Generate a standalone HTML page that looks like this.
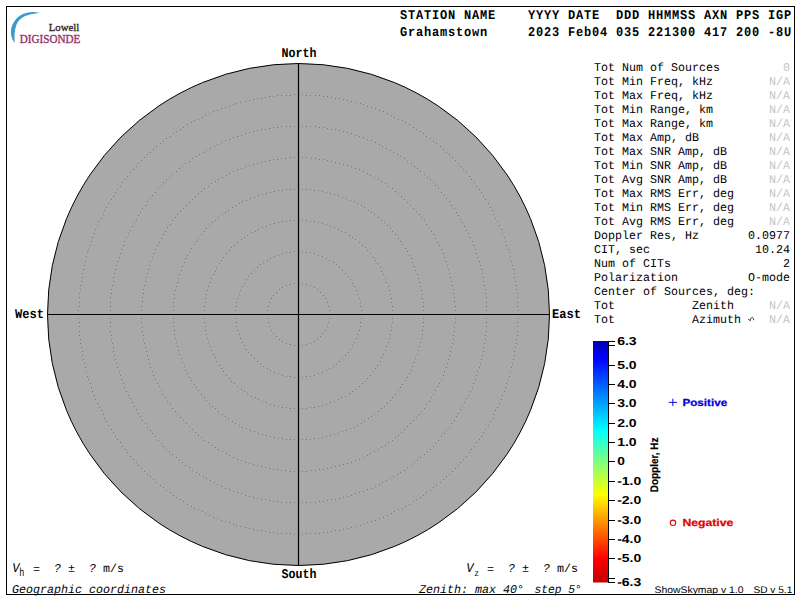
<!DOCTYPE html>
<html><head><meta charset="utf-8"><title>Skymap</title>
<style>
html,body{margin:0;padding:0;background:#fff;width:800px;height:600px;overflow:hidden}
svg{display:block}
.m{font-family:"Liberation Mono",monospace;text-rendering:geometricPrecision}
.s{font-family:"Liberation Sans",sans-serif;text-rendering:geometricPrecision}
.sr{font-family:"Liberation Serif",serif}
</style></head><body>
<svg width="800" height="600" viewBox="0 0 800 600">
<defs>
<linearGradient id="jet" x1="0" y1="0" x2="0" y2="1">
<stop offset="0" stop-color="#0000b0"/>
<stop offset="0.07" stop-color="#0000ff"/>
<stop offset="0.37" stop-color="#00ffff"/>
<stop offset="0.5" stop-color="#80ff80"/>
<stop offset="0.635" stop-color="#ffff00"/>
<stop offset="0.9" stop-color="#ff0000"/>
<stop offset="1" stop-color="#c00000"/>
</linearGradient>
</defs>
<rect x="0" y="0" width="800" height="600" fill="#fff"/>
<path d="M39.5,13 C30,10 15,13.5 11.2,28.5 C10.4,34 11.8,39.5 14.7,42.8 C14.2,37 14.3,30.5 16.5,24.5 C20,16.5 28.5,13.8 39.5,13 Z" fill="#3a9ac9"/>
<text class="sr" x="48.8" y="31" font-size="11.4" fill="#2a2a2a" stroke="#2a2a2a" stroke-width="0.35" textLength="30.4" lengthAdjust="spacingAndGlyphs">Lowell</text>
<text class="sr" x="19.8" y="43.3" font-size="11.6" fill="#993366" stroke="#993366" stroke-width="0.35" textLength="60.6" lengthAdjust="spacingAndGlyphs">DIGISONDE</text>
<text class="m" font-weight="bold" font-size="13.333" fill="#000" xml:space="preserve" letter-spacing="0.889" transform="translate(400.0,19) scale(0.9,1)">STATION NAME    YYYY DATE  DDD HHMMSS AXN PPS IGP</text>
<text class="m" font-weight="bold" font-size="13.333" fill="#000" xml:space="preserve" letter-spacing="0.889" transform="translate(400.0,36) scale(0.9,1)">Grahamstown     2023 Feb04 035 221300 417 200 -8U</text>
<circle cx="298.5" cy="314.5" r="251" fill="#a9a9a9" stroke="#000" stroke-width="1"/>
<path fill="#777777" d="M298 283h1v1h-1zM302 283h1v1h-1zM306 284h1v1h-1zM310 285h1v1h-1zM314 287h1v1h-1zM317 289h1v1h-1zM320 292h1v1h-1zM323 295h1v1h-1zM325 298h1v1h-1zM327 302h1v1h-1zM328 306h1v1h-1zM329 310h1v1h-1zM329 314h1v1h-1zM329 318h1v1h-1zM328 322h1v1h-1zM327 326h1v1h-1zM325 330h1v1h-1zM323 333h1v1h-1zM320 336h1v1h-1zM317 339h1v1h-1zM314 341h1v1h-1zM310 343h1v1h-1zM306 344h1v1h-1zM302 345h1v1h-1zM298 345h1v1h-1zM294 345h1v1h-1zM290 344h1v1h-1zM286 343h1v1h-1zM282 341h1v1h-1zM279 339h1v1h-1zM276 336h1v1h-1zM273 333h1v1h-1zM271 330h1v1h-1zM269 326h1v1h-1zM268 322h1v1h-1zM267 318h1v1h-1zM267 314h1v1h-1zM267 310h1v1h-1zM268 306h1v1h-1zM269 302h1v1h-1zM271 298h1v1h-1zM273 295h1v1h-1zM276 292h1v1h-1zM279 289h1v1h-1zM282 287h1v1h-1zM286 285h1v1h-1zM290 284h1v1h-1zM294 283h1v1h-1zM298 251h1v1h-1zM302 251h1v1h-1zM306 252h1v1h-1zM310 252h1v1h-1zM314 253h1v1h-1zM318 255h1v1h-1zM322 256h1v1h-1zM326 258h1v1h-1zM329 260h1v1h-1zM333 262h1v1h-1zM336 264h1v1h-1zM339 267h1v1h-1zM342 270h1v1h-1zM345 273h1v1h-1zM348 276h1v1h-1zM350 279h1v1h-1zM352 283h1v1h-1zM354 286h1v1h-1zM356 290h1v1h-1zM357 294h1v1h-1zM359 298h1v1h-1zM360 302h1v1h-1zM360 306h1v1h-1zM361 310h1v1h-1zM361 314h1v1h-1zM361 318h1v1h-1zM360 322h1v1h-1zM360 326h1v1h-1zM359 330h1v1h-1zM357 334h1v1h-1zM356 338h1v1h-1zM354 342h1v1h-1zM352 345h1v1h-1zM350 349h1v1h-1zM348 352h1v1h-1zM345 355h1v1h-1zM342 358h1v1h-1zM339 361h1v1h-1zM336 364h1v1h-1zM333 366h1v1h-1zM329 368h1v1h-1zM326 370h1v1h-1zM322 372h1v1h-1zM318 373h1v1h-1zM314 375h1v1h-1zM310 376h1v1h-1zM306 376h1v1h-1zM302 377h1v1h-1zM298 377h1v1h-1zM294 377h1v1h-1zM290 376h1v1h-1zM286 376h1v1h-1zM282 375h1v1h-1zM278 373h1v1h-1zM274 372h1v1h-1zM270 370h1v1h-1zM267 368h1v1h-1zM263 366h1v1h-1zM260 364h1v1h-1zM257 361h1v1h-1zM254 358h1v1h-1zM251 355h1v1h-1zM248 352h1v1h-1zM246 349h1v1h-1zM244 345h1v1h-1zM242 342h1v1h-1zM240 338h1v1h-1zM239 334h1v1h-1zM237 330h1v1h-1zM236 326h1v1h-1zM236 322h1v1h-1zM235 318h1v1h-1zM235 314h1v1h-1zM235 310h1v1h-1zM236 306h1v1h-1zM236 302h1v1h-1zM237 298h1v1h-1zM239 294h1v1h-1zM240 290h1v1h-1zM242 286h1v1h-1zM244 283h1v1h-1zM246 279h1v1h-1zM248 276h1v1h-1zM251 273h1v1h-1zM254 270h1v1h-1zM257 267h1v1h-1zM260 264h1v1h-1zM263 262h1v1h-1zM267 260h1v1h-1zM270 258h1v1h-1zM274 256h1v1h-1zM278 255h1v1h-1zM282 253h1v1h-1zM286 252h1v1h-1zM290 252h1v1h-1zM294 251h1v1h-1zM298 220h1v1h-1zM302 220h1v1h-1zM306 220h1v1h-1zM310 221h1v1h-1zM314 221h1v1h-1zM318 222h1v1h-1zM322 223h1v1h-1zM326 224h1v1h-1zM330 226h1v1h-1zM334 227h1v1h-1zM338 229h1v1h-1zM341 231h1v1h-1zM345 232h1v1h-1zM349 235h1v1h-1zM352 237h1v1h-1zM355 239h1v1h-1zM359 242h1v1h-1zM362 245h1v1h-1zM365 247h1v1h-1zM367 250h1v1h-1zM370 253h1v1h-1zM373 257h1v1h-1zM375 260h1v1h-1zM377 263h1v1h-1zM380 267h1v1h-1zM381 271h1v1h-1zM383 274h1v1h-1zM385 278h1v1h-1zM386 282h1v1h-1zM388 286h1v1h-1zM389 290h1v1h-1zM390 294h1v1h-1zM391 298h1v1h-1zM391 302h1v1h-1zM392 306h1v1h-1zM392 310h1v1h-1zM392 314h1v1h-1zM392 318h1v1h-1zM392 322h1v1h-1zM391 326h1v1h-1zM391 330h1v1h-1zM390 334h1v1h-1zM389 338h1v1h-1zM388 342h1v1h-1zM386 346h1v1h-1zM385 350h1v1h-1zM383 354h1v1h-1zM381 357h1v1h-1zM380 361h1v1h-1zM377 365h1v1h-1zM375 368h1v1h-1zM373 371h1v1h-1zM370 375h1v1h-1zM367 378h1v1h-1zM365 381h1v1h-1zM362 383h1v1h-1zM359 386h1v1h-1zM355 389h1v1h-1zM352 391h1v1h-1zM349 393h1v1h-1zM345 396h1v1h-1zM341 397h1v1h-1zM338 399h1v1h-1zM334 401h1v1h-1zM330 402h1v1h-1zM326 404h1v1h-1zM322 405h1v1h-1zM318 406h1v1h-1zM314 407h1v1h-1zM310 407h1v1h-1zM306 408h1v1h-1zM302 408h1v1h-1zM298 408h1v1h-1zM294 408h1v1h-1zM290 408h1v1h-1zM286 407h1v1h-1zM282 407h1v1h-1zM278 406h1v1h-1zM274 405h1v1h-1zM270 404h1v1h-1zM266 402h1v1h-1zM262 401h1v1h-1zM258 399h1v1h-1zM255 397h1v1h-1zM251 396h1v1h-1zM247 393h1v1h-1zM244 391h1v1h-1zM241 389h1v1h-1zM237 386h1v1h-1zM234 383h1v1h-1zM231 381h1v1h-1zM229 378h1v1h-1zM226 375h1v1h-1zM223 371h1v1h-1zM221 368h1v1h-1zM219 365h1v1h-1zM216 361h1v1h-1zM215 357h1v1h-1zM213 354h1v1h-1zM211 350h1v1h-1zM210 346h1v1h-1zM208 342h1v1h-1zM207 338h1v1h-1zM206 334h1v1h-1zM205 330h1v1h-1zM205 326h1v1h-1zM204 322h1v1h-1zM204 318h1v1h-1zM204 314h1v1h-1zM204 310h1v1h-1zM204 306h1v1h-1zM205 302h1v1h-1zM205 298h1v1h-1zM206 294h1v1h-1zM207 290h1v1h-1zM208 286h1v1h-1zM210 282h1v1h-1zM211 278h1v1h-1zM213 274h1v1h-1zM215 271h1v1h-1zM216 267h1v1h-1zM219 263h1v1h-1zM221 260h1v1h-1zM223 257h1v1h-1zM226 253h1v1h-1zM229 250h1v1h-1zM231 247h1v1h-1zM234 245h1v1h-1zM237 242h1v1h-1zM241 239h1v1h-1zM244 237h1v1h-1zM247 235h1v1h-1zM251 232h1v1h-1zM255 231h1v1h-1zM258 229h1v1h-1zM262 227h1v1h-1zM266 226h1v1h-1zM270 224h1v1h-1zM274 223h1v1h-1zM278 222h1v1h-1zM282 221h1v1h-1zM286 221h1v1h-1zM290 220h1v1h-1zM294 220h1v1h-1zM298 189h1v1h-1zM302 189h1v1h-1zM306 189h1v1h-1zM310 189h1v1h-1zM314 190h1v1h-1zM318 190h1v1h-1zM322 191h1v1h-1zM326 192h1v1h-1zM330 193h1v1h-1zM334 194h1v1h-1zM338 195h1v1h-1zM342 197h1v1h-1zM346 198h1v1h-1zM350 200h1v1h-1zM354 201h1v1h-1zM357 203h1v1h-1zM361 205h1v1h-1zM364 207h1v1h-1zM368 210h1v1h-1zM371 212h1v1h-1zM374 214h1v1h-1zM378 217h1v1h-1zM381 220h1v1h-1zM384 222h1v1h-1zM387 225h1v1h-1zM390 228h1v1h-1zM392 231h1v1h-1zM395 234h1v1h-1zM398 238h1v1h-1zM400 241h1v1h-1zM402 244h1v1h-1zM405 248h1v1h-1zM407 251h1v1h-1zM409 255h1v1h-1zM411 258h1v1h-1zM412 262h1v1h-1zM414 266h1v1h-1zM415 270h1v1h-1zM417 274h1v1h-1zM418 278h1v1h-1zM419 282h1v1h-1zM420 286h1v1h-1zM421 290h1v1h-1zM422 294h1v1h-1zM422 298h1v1h-1zM423 302h1v1h-1zM423 306h1v1h-1zM423 310h1v1h-1zM424 314h1v1h-1zM423 318h1v1h-1zM423 322h1v1h-1zM423 326h1v1h-1zM422 330h1v1h-1zM422 334h1v1h-1zM421 338h1v1h-1zM420 342h1v1h-1zM419 346h1v1h-1zM418 350h1v1h-1zM417 354h1v1h-1zM415 358h1v1h-1zM414 362h1v1h-1zM412 366h1v1h-1zM411 370h1v1h-1zM409 373h1v1h-1zM407 377h1v1h-1zM405 380h1v1h-1zM402 384h1v1h-1zM400 387h1v1h-1zM398 390h1v1h-1zM395 394h1v1h-1zM392 397h1v1h-1zM390 400h1v1h-1zM387 403h1v1h-1zM384 406h1v1h-1zM381 408h1v1h-1zM378 411h1v1h-1zM374 414h1v1h-1zM371 416h1v1h-1zM368 418h1v1h-1zM364 421h1v1h-1zM361 423h1v1h-1zM357 425h1v1h-1zM354 427h1v1h-1zM350 428h1v1h-1zM346 430h1v1h-1zM342 431h1v1h-1zM338 433h1v1h-1zM334 434h1v1h-1zM330 435h1v1h-1zM326 436h1v1h-1zM322 437h1v1h-1zM318 438h1v1h-1zM314 438h1v1h-1zM310 439h1v1h-1zM306 439h1v1h-1zM302 439h1v1h-1zM298 440h1v1h-1zM294 439h1v1h-1zM290 439h1v1h-1zM286 439h1v1h-1zM282 438h1v1h-1zM278 438h1v1h-1zM274 437h1v1h-1zM270 436h1v1h-1zM266 435h1v1h-1zM262 434h1v1h-1zM258 433h1v1h-1zM254 431h1v1h-1zM250 430h1v1h-1zM246 428h1v1h-1zM242 427h1v1h-1zM239 425h1v1h-1zM235 423h1v1h-1zM232 421h1v1h-1zM228 418h1v1h-1zM225 416h1v1h-1zM222 414h1v1h-1zM218 411h1v1h-1zM215 408h1v1h-1zM212 406h1v1h-1zM209 403h1v1h-1zM206 400h1v1h-1zM204 397h1v1h-1zM201 394h1v1h-1zM198 390h1v1h-1zM196 387h1v1h-1zM194 384h1v1h-1zM191 380h1v1h-1zM189 377h1v1h-1zM187 373h1v1h-1zM185 370h1v1h-1zM184 366h1v1h-1zM182 362h1v1h-1zM181 358h1v1h-1zM179 354h1v1h-1zM178 350h1v1h-1zM177 346h1v1h-1zM176 342h1v1h-1zM175 338h1v1h-1zM174 334h1v1h-1zM174 330h1v1h-1zM173 326h1v1h-1zM173 322h1v1h-1zM173 318h1v1h-1zM173 314h1v1h-1zM173 310h1v1h-1zM173 306h1v1h-1zM173 302h1v1h-1zM174 298h1v1h-1zM174 294h1v1h-1zM175 290h1v1h-1zM176 286h1v1h-1zM177 282h1v1h-1zM178 278h1v1h-1zM179 274h1v1h-1zM181 270h1v1h-1zM182 266h1v1h-1zM184 262h1v1h-1zM185 258h1v1h-1zM187 255h1v1h-1zM189 251h1v1h-1zM191 248h1v1h-1zM194 244h1v1h-1zM196 241h1v1h-1zM198 238h1v1h-1zM201 234h1v1h-1zM204 231h1v1h-1zM206 228h1v1h-1zM209 225h1v1h-1zM212 222h1v1h-1zM215 220h1v1h-1zM218 217h1v1h-1zM222 214h1v1h-1zM225 212h1v1h-1zM228 210h1v1h-1zM232 207h1v1h-1zM235 205h1v1h-1zM239 203h1v1h-1zM242 201h1v1h-1zM246 200h1v1h-1zM250 198h1v1h-1zM254 197h1v1h-1zM258 195h1v1h-1zM262 194h1v1h-1zM266 193h1v1h-1zM270 192h1v1h-1zM274 191h1v1h-1zM278 190h1v1h-1zM282 190h1v1h-1zM286 189h1v1h-1zM290 189h1v1h-1zM294 189h1v1h-1zM298 157h1v1h-1zM302 157h1v1h-1zM306 157h1v1h-1zM311 158h1v1h-1zM315 158h1v1h-1zM319 159h1v1h-1zM323 159h1v1h-1zM327 160h1v1h-1zM331 161h1v1h-1zM335 162h1v1h-1zM339 163h1v1h-1zM343 164h1v1h-1zM347 165h1v1h-1zM351 166h1v1h-1zM355 168h1v1h-1zM359 169h1v1h-1zM363 171h1v1h-1zM367 173h1v1h-1zM370 175h1v1h-1zM374 177h1v1h-1zM378 179h1v1h-1zM381 181h1v1h-1zM385 183h1v1h-1zM388 186h1v1h-1zM392 188h1v1h-1zM395 191h1v1h-1zM398 193h1v1h-1zM401 196h1v1h-1zM404 199h1v1h-1zM407 202h1v1h-1zM410 205h1v1h-1zM413 208h1v1h-1zM416 211h1v1h-1zM419 214h1v1h-1zM421 217h1v1h-1zM424 220h1v1h-1zM426 224h1v1h-1zM429 227h1v1h-1zM431 231h1v1h-1zM433 234h1v1h-1zM435 238h1v1h-1zM437 242h1v1h-1zM439 245h1v1h-1zM441 249h1v1h-1zM443 253h1v1h-1zM444 257h1v1h-1zM446 261h1v1h-1zM447 265h1v1h-1zM448 269h1v1h-1zM449 273h1v1h-1zM450 277h1v1h-1zM451 281h1v1h-1zM452 285h1v1h-1zM453 289h1v1h-1zM453 293h1v1h-1zM454 297h1v1h-1zM454 301h1v1h-1zM455 306h1v1h-1zM455 310h1v1h-1zM455 314h1v1h-1zM455 318h1v1h-1zM455 322h1v1h-1zM454 327h1v1h-1zM454 331h1v1h-1zM453 335h1v1h-1zM453 339h1v1h-1zM452 343h1v1h-1zM451 347h1v1h-1zM450 351h1v1h-1zM449 355h1v1h-1zM448 359h1v1h-1zM447 363h1v1h-1zM446 367h1v1h-1zM444 371h1v1h-1zM443 375h1v1h-1zM441 379h1v1h-1zM439 383h1v1h-1zM437 386h1v1h-1zM435 390h1v1h-1zM433 394h1v1h-1zM431 397h1v1h-1zM429 401h1v1h-1zM426 404h1v1h-1zM424 408h1v1h-1zM421 411h1v1h-1zM419 414h1v1h-1zM416 417h1v1h-1zM413 420h1v1h-1zM410 423h1v1h-1zM407 426h1v1h-1zM404 429h1v1h-1zM401 432h1v1h-1zM398 435h1v1h-1zM395 437h1v1h-1zM392 440h1v1h-1zM388 442h1v1h-1zM385 445h1v1h-1zM381 447h1v1h-1zM378 449h1v1h-1zM374 451h1v1h-1zM370 453h1v1h-1zM367 455h1v1h-1zM363 457h1v1h-1zM359 459h1v1h-1zM355 460h1v1h-1zM351 462h1v1h-1zM347 463h1v1h-1zM343 464h1v1h-1zM339 465h1v1h-1zM335 466h1v1h-1zM331 467h1v1h-1zM327 468h1v1h-1zM323 469h1v1h-1zM319 469h1v1h-1zM315 470h1v1h-1zM311 470h1v1h-1zM306 471h1v1h-1zM302 471h1v1h-1zM298 471h1v1h-1zM294 471h1v1h-1zM290 471h1v1h-1zM285 470h1v1h-1zM281 470h1v1h-1zM277 469h1v1h-1zM273 469h1v1h-1zM269 468h1v1h-1zM265 467h1v1h-1zM261 466h1v1h-1zM257 465h1v1h-1zM253 464h1v1h-1zM249 463h1v1h-1zM245 462h1v1h-1zM241 460h1v1h-1zM237 459h1v1h-1zM233 457h1v1h-1zM229 455h1v1h-1zM226 453h1v1h-1zM222 451h1v1h-1zM218 449h1v1h-1zM215 447h1v1h-1zM211 445h1v1h-1zM208 442h1v1h-1zM204 440h1v1h-1zM201 437h1v1h-1zM198 435h1v1h-1zM195 432h1v1h-1zM192 429h1v1h-1zM189 426h1v1h-1zM186 423h1v1h-1zM183 420h1v1h-1zM180 417h1v1h-1zM177 414h1v1h-1zM175 411h1v1h-1zM172 408h1v1h-1zM170 404h1v1h-1zM167 401h1v1h-1zM165 397h1v1h-1zM163 394h1v1h-1zM161 390h1v1h-1zM159 386h1v1h-1zM157 383h1v1h-1zM155 379h1v1h-1zM153 375h1v1h-1zM152 371h1v1h-1zM150 367h1v1h-1zM149 363h1v1h-1zM148 359h1v1h-1zM147 355h1v1h-1zM146 351h1v1h-1zM145 347h1v1h-1zM144 343h1v1h-1zM143 339h1v1h-1zM143 335h1v1h-1zM142 331h1v1h-1zM142 327h1v1h-1zM141 322h1v1h-1zM141 318h1v1h-1zM141 314h1v1h-1zM141 310h1v1h-1zM141 306h1v1h-1zM142 301h1v1h-1zM142 297h1v1h-1zM143 293h1v1h-1zM143 289h1v1h-1zM144 285h1v1h-1zM145 281h1v1h-1zM146 277h1v1h-1zM147 273h1v1h-1zM148 269h1v1h-1zM149 265h1v1h-1zM150 261h1v1h-1zM152 257h1v1h-1zM153 253h1v1h-1zM155 249h1v1h-1zM157 245h1v1h-1zM159 242h1v1h-1zM161 238h1v1h-1zM163 234h1v1h-1zM165 231h1v1h-1zM167 227h1v1h-1zM170 224h1v1h-1zM172 220h1v1h-1zM175 217h1v1h-1zM177 214h1v1h-1zM180 211h1v1h-1zM183 208h1v1h-1zM186 205h1v1h-1zM189 202h1v1h-1zM192 199h1v1h-1zM195 196h1v1h-1zM198 193h1v1h-1zM201 191h1v1h-1zM204 188h1v1h-1zM208 186h1v1h-1zM211 183h1v1h-1zM215 181h1v1h-1zM218 179h1v1h-1zM222 177h1v1h-1zM226 175h1v1h-1zM229 173h1v1h-1zM233 171h1v1h-1zM237 169h1v1h-1zM241 168h1v1h-1zM245 166h1v1h-1zM249 165h1v1h-1zM253 164h1v1h-1zM257 163h1v1h-1zM261 162h1v1h-1zM265 161h1v1h-1zM269 160h1v1h-1zM273 159h1v1h-1zM277 159h1v1h-1zM281 158h1v1h-1zM285 158h1v1h-1zM290 157h1v1h-1zM294 157h1v1h-1zM298 126h1v1h-1zM302 126h1v1h-1zM306 126h1v1h-1zM310 126h1v1h-1zM315 126h1v1h-1zM319 127h1v1h-1zM323 127h1v1h-1zM327 128h1v1h-1zM331 129h1v1h-1zM335 129h1v1h-1zM339 130h1v1h-1zM343 131h1v1h-1zM347 132h1v1h-1zM351 133h1v1h-1zM355 135h1v1h-1zM359 136h1v1h-1zM363 137h1v1h-1zM367 139h1v1h-1zM371 140h1v1h-1zM375 142h1v1h-1zM379 144h1v1h-1zM382 146h1v1h-1zM386 148h1v1h-1zM390 150h1v1h-1zM393 152h1v1h-1zM397 154h1v1h-1zM400 156h1v1h-1zM404 158h1v1h-1zM407 161h1v1h-1zM411 163h1v1h-1zM414 166h1v1h-1zM417 168h1v1h-1zM420 171h1v1h-1zM424 174h1v1h-1zM427 177h1v1h-1zM430 179h1v1h-1zM433 182h1v1h-1zM435 185h1v1h-1zM438 188h1v1h-1zM441 192h1v1h-1zM444 195h1v1h-1zM446 198h1v1h-1zM449 201h1v1h-1zM451 205h1v1h-1zM454 208h1v1h-1zM456 212h1v1h-1zM458 215h1v1h-1zM460 219h1v1h-1zM462 222h1v1h-1zM464 226h1v1h-1zM466 230h1v1h-1zM468 233h1v1h-1zM470 237h1v1h-1zM472 241h1v1h-1zM473 245h1v1h-1zM475 249h1v1h-1zM476 253h1v1h-1zM477 257h1v1h-1zM479 261h1v1h-1zM480 265h1v1h-1zM481 269h1v1h-1zM482 273h1v1h-1zM483 277h1v1h-1zM483 281h1v1h-1zM484 285h1v1h-1zM485 289h1v1h-1zM485 293h1v1h-1zM486 297h1v1h-1zM486 302h1v1h-1zM486 306h1v1h-1zM486 310h1v1h-1zM486 314h1v1h-1zM486 318h1v1h-1zM486 322h1v1h-1zM486 326h1v1h-1zM486 331h1v1h-1zM485 335h1v1h-1zM485 339h1v1h-1zM484 343h1v1h-1zM483 347h1v1h-1zM483 351h1v1h-1zM482 355h1v1h-1zM481 359h1v1h-1zM480 363h1v1h-1zM479 367h1v1h-1zM477 371h1v1h-1zM476 375h1v1h-1zM475 379h1v1h-1zM473 383h1v1h-1zM472 387h1v1h-1zM470 391h1v1h-1zM468 395h1v1h-1zM466 398h1v1h-1zM464 402h1v1h-1zM462 406h1v1h-1zM460 409h1v1h-1zM458 413h1v1h-1zM456 416h1v1h-1zM454 420h1v1h-1zM451 423h1v1h-1zM449 427h1v1h-1zM446 430h1v1h-1zM444 433h1v1h-1zM441 436h1v1h-1zM438 440h1v1h-1zM435 443h1v1h-1zM433 446h1v1h-1zM430 449h1v1h-1zM427 451h1v1h-1zM424 454h1v1h-1zM420 457h1v1h-1zM417 460h1v1h-1zM414 462h1v1h-1zM411 465h1v1h-1zM407 467h1v1h-1zM404 470h1v1h-1zM400 472h1v1h-1zM397 474h1v1h-1zM393 476h1v1h-1zM390 478h1v1h-1zM386 480h1v1h-1zM382 482h1v1h-1zM379 484h1v1h-1zM375 486h1v1h-1zM371 488h1v1h-1zM367 489h1v1h-1zM363 491h1v1h-1zM359 492h1v1h-1zM355 493h1v1h-1zM351 495h1v1h-1zM347 496h1v1h-1zM343 497h1v1h-1zM339 498h1v1h-1zM335 499h1v1h-1zM331 499h1v1h-1zM327 500h1v1h-1zM323 501h1v1h-1zM319 501h1v1h-1zM315 502h1v1h-1zM310 502h1v1h-1zM306 502h1v1h-1zM302 502h1v1h-1zM298 502h1v1h-1zM294 502h1v1h-1zM290 502h1v1h-1zM286 502h1v1h-1zM281 502h1v1h-1zM277 501h1v1h-1zM273 501h1v1h-1zM269 500h1v1h-1zM265 499h1v1h-1zM261 499h1v1h-1zM257 498h1v1h-1zM253 497h1v1h-1zM249 496h1v1h-1zM245 495h1v1h-1zM241 493h1v1h-1zM237 492h1v1h-1zM233 491h1v1h-1zM229 489h1v1h-1zM225 488h1v1h-1zM221 486h1v1h-1zM217 484h1v1h-1zM214 482h1v1h-1zM210 480h1v1h-1zM206 478h1v1h-1zM203 476h1v1h-1zM199 474h1v1h-1zM196 472h1v1h-1zM192 470h1v1h-1zM189 467h1v1h-1zM185 465h1v1h-1zM182 462h1v1h-1zM179 460h1v1h-1zM176 457h1v1h-1zM172 454h1v1h-1zM169 451h1v1h-1zM166 449h1v1h-1zM163 446h1v1h-1zM161 443h1v1h-1zM158 440h1v1h-1zM155 436h1v1h-1zM152 433h1v1h-1zM150 430h1v1h-1zM147 427h1v1h-1zM145 423h1v1h-1zM142 420h1v1h-1zM140 416h1v1h-1zM138 413h1v1h-1zM136 409h1v1h-1zM134 406h1v1h-1zM132 402h1v1h-1zM130 398h1v1h-1zM128 395h1v1h-1zM126 391h1v1h-1zM124 387h1v1h-1zM123 383h1v1h-1zM121 379h1v1h-1zM120 375h1v1h-1zM119 371h1v1h-1zM117 367h1v1h-1zM116 363h1v1h-1zM115 359h1v1h-1zM114 355h1v1h-1zM113 351h1v1h-1zM113 347h1v1h-1zM112 343h1v1h-1zM111 339h1v1h-1zM111 335h1v1h-1zM110 331h1v1h-1zM110 326h1v1h-1zM110 322h1v1h-1zM110 318h1v1h-1zM110 314h1v1h-1zM110 310h1v1h-1zM110 306h1v1h-1zM110 302h1v1h-1zM110 297h1v1h-1zM111 293h1v1h-1zM111 289h1v1h-1zM112 285h1v1h-1zM113 281h1v1h-1zM113 277h1v1h-1zM114 273h1v1h-1zM115 269h1v1h-1zM116 265h1v1h-1zM117 261h1v1h-1zM119 257h1v1h-1zM120 253h1v1h-1zM121 249h1v1h-1zM123 245h1v1h-1zM124 241h1v1h-1zM126 237h1v1h-1zM128 233h1v1h-1zM130 230h1v1h-1zM132 226h1v1h-1zM134 222h1v1h-1zM136 219h1v1h-1zM138 215h1v1h-1zM140 212h1v1h-1zM142 208h1v1h-1zM145 205h1v1h-1zM147 201h1v1h-1zM150 198h1v1h-1zM152 195h1v1h-1zM155 192h1v1h-1zM158 188h1v1h-1zM161 185h1v1h-1zM163 182h1v1h-1zM166 179h1v1h-1zM169 177h1v1h-1zM172 174h1v1h-1zM176 171h1v1h-1zM179 168h1v1h-1zM182 166h1v1h-1zM185 163h1v1h-1zM189 161h1v1h-1zM192 158h1v1h-1zM196 156h1v1h-1zM199 154h1v1h-1zM203 152h1v1h-1zM206 150h1v1h-1zM210 148h1v1h-1zM214 146h1v1h-1zM217 144h1v1h-1zM221 142h1v1h-1zM225 140h1v1h-1zM229 139h1v1h-1zM233 137h1v1h-1zM237 136h1v1h-1zM241 135h1v1h-1zM245 133h1v1h-1zM249 132h1v1h-1zM253 131h1v1h-1zM257 130h1v1h-1zM261 129h1v1h-1zM265 129h1v1h-1zM269 128h1v1h-1zM273 127h1v1h-1zM277 127h1v1h-1zM281 126h1v1h-1zM286 126h1v1h-1zM290 126h1v1h-1zM294 126h1v1h-1zM298 94h1v1h-1zM302 94h1v1h-1zM306 95h1v1h-1zM310 95h1v1h-1zM315 95h1v1h-1zM319 95h1v1h-1zM323 96h1v1h-1zM327 96h1v1h-1zM331 97h1v1h-1zM335 98h1v1h-1zM339 98h1v1h-1zM343 99h1v1h-1zM347 100h1v1h-1zM351 101h1v1h-1zM356 102h1v1h-1zM360 103h1v1h-1zM363 104h1v1h-1zM367 106h1v1h-1zM371 107h1v1h-1zM375 108h1v1h-1zM379 110h1v1h-1zM383 111h1v1h-1zM387 113h1v1h-1zM391 115h1v1h-1zM394 117h1v1h-1zM398 119h1v1h-1zM402 120h1v1h-1zM405 122h1v1h-1zM409 124h1v1h-1zM413 127h1v1h-1zM416 129h1v1h-1zM420 131h1v1h-1zM423 133h1v1h-1zM426 136h1v1h-1zM430 138h1v1h-1zM433 141h1v1h-1zM436 143h1v1h-1zM440 146h1v1h-1zM443 149h1v1h-1zM446 152h1v1h-1zM449 154h1v1h-1zM452 157h1v1h-1zM455 160h1v1h-1zM458 163h1v1h-1zM460 166h1v1h-1zM463 169h1v1h-1zM466 172h1v1h-1zM469 176h1v1h-1zM471 179h1v1h-1zM474 182h1v1h-1zM476 186h1v1h-1zM479 189h1v1h-1zM481 192h1v1h-1zM483 196h1v1h-1zM485 199h1v1h-1zM488 203h1v1h-1zM490 207h1v1h-1zM492 210h1v1h-1zM493 214h1v1h-1zM495 218h1v1h-1zM497 221h1v1h-1zM499 225h1v1h-1zM501 229h1v1h-1zM502 233h1v1h-1zM504 237h1v1h-1zM505 241h1v1h-1zM506 245h1v1h-1zM508 249h1v1h-1zM509 252h1v1h-1zM510 256h1v1h-1zM511 261h1v1h-1zM512 265h1v1h-1zM513 269h1v1h-1zM514 273h1v1h-1zM514 277h1v1h-1zM515 281h1v1h-1zM516 285h1v1h-1zM516 289h1v1h-1zM517 293h1v1h-1zM517 297h1v1h-1zM517 302h1v1h-1zM517 306h1v1h-1zM518 310h1v1h-1zM518 314h1v1h-1zM518 318h1v1h-1zM517 322h1v1h-1zM517 326h1v1h-1zM517 331h1v1h-1zM517 335h1v1h-1zM516 339h1v1h-1zM516 343h1v1h-1zM515 347h1v1h-1zM514 351h1v1h-1zM514 355h1v1h-1zM513 359h1v1h-1zM512 363h1v1h-1zM511 367h1v1h-1zM510 372h1v1h-1zM509 376h1v1h-1zM508 379h1v1h-1zM506 383h1v1h-1zM505 387h1v1h-1zM504 391h1v1h-1zM502 395h1v1h-1zM501 399h1v1h-1zM499 403h1v1h-1zM497 407h1v1h-1zM495 410h1v1h-1zM493 414h1v1h-1zM492 418h1v1h-1zM490 421h1v1h-1zM488 425h1v1h-1zM485 429h1v1h-1zM483 432h1v1h-1zM481 436h1v1h-1zM479 439h1v1h-1zM476 442h1v1h-1zM474 446h1v1h-1zM471 449h1v1h-1zM469 452h1v1h-1zM466 456h1v1h-1zM463 459h1v1h-1zM460 462h1v1h-1zM458 465h1v1h-1zM455 468h1v1h-1zM452 471h1v1h-1zM449 474h1v1h-1zM446 476h1v1h-1zM443 479h1v1h-1zM440 482h1v1h-1zM436 485h1v1h-1zM433 487h1v1h-1zM430 490h1v1h-1zM426 492h1v1h-1zM423 495h1v1h-1zM420 497h1v1h-1zM416 499h1v1h-1zM413 501h1v1h-1zM409 504h1v1h-1zM405 506h1v1h-1zM402 508h1v1h-1zM398 509h1v1h-1zM394 511h1v1h-1zM391 513h1v1h-1zM387 515h1v1h-1zM383 517h1v1h-1zM379 518h1v1h-1zM375 520h1v1h-1zM371 521h1v1h-1zM367 522h1v1h-1zM363 524h1v1h-1zM360 525h1v1h-1zM356 526h1v1h-1zM351 527h1v1h-1zM347 528h1v1h-1zM343 529h1v1h-1zM339 530h1v1h-1zM335 530h1v1h-1zM331 531h1v1h-1zM327 532h1v1h-1zM323 532h1v1h-1zM319 533h1v1h-1zM315 533h1v1h-1zM310 533h1v1h-1zM306 533h1v1h-1zM302 534h1v1h-1zM298 534h1v1h-1zM294 534h1v1h-1zM290 533h1v1h-1zM286 533h1v1h-1zM281 533h1v1h-1zM277 533h1v1h-1zM273 532h1v1h-1zM269 532h1v1h-1zM265 531h1v1h-1zM261 530h1v1h-1zM257 530h1v1h-1zM253 529h1v1h-1zM249 528h1v1h-1zM245 527h1v1h-1zM240 526h1v1h-1zM236 525h1v1h-1zM233 524h1v1h-1zM229 522h1v1h-1zM225 521h1v1h-1zM221 520h1v1h-1zM217 518h1v1h-1zM213 517h1v1h-1zM209 515h1v1h-1zM205 513h1v1h-1zM202 511h1v1h-1zM198 509h1v1h-1zM194 508h1v1h-1zM191 506h1v1h-1zM187 504h1v1h-1zM183 501h1v1h-1zM180 499h1v1h-1zM176 497h1v1h-1zM173 495h1v1h-1zM170 492h1v1h-1zM166 490h1v1h-1zM163 487h1v1h-1zM160 485h1v1h-1zM156 482h1v1h-1zM153 479h1v1h-1zM150 476h1v1h-1zM147 474h1v1h-1zM144 471h1v1h-1zM141 468h1v1h-1zM138 465h1v1h-1zM136 462h1v1h-1zM133 459h1v1h-1zM130 456h1v1h-1zM127 452h1v1h-1zM125 449h1v1h-1zM122 446h1v1h-1zM120 442h1v1h-1zM117 439h1v1h-1zM115 436h1v1h-1zM113 432h1v1h-1zM111 429h1v1h-1zM108 425h1v1h-1zM106 421h1v1h-1zM104 418h1v1h-1zM103 414h1v1h-1zM101 410h1v1h-1zM99 407h1v1h-1zM97 403h1v1h-1zM95 399h1v1h-1zM94 395h1v1h-1zM92 391h1v1h-1zM91 387h1v1h-1zM90 383h1v1h-1zM88 379h1v1h-1zM87 376h1v1h-1zM86 372h1v1h-1zM85 367h1v1h-1zM84 363h1v1h-1zM83 359h1v1h-1zM82 355h1v1h-1zM82 351h1v1h-1zM81 347h1v1h-1zM80 343h1v1h-1zM80 339h1v1h-1zM79 335h1v1h-1zM79 331h1v1h-1zM79 326h1v1h-1zM79 322h1v1h-1zM78 318h1v1h-1zM78 314h1v1h-1zM78 310h1v1h-1zM79 306h1v1h-1zM79 302h1v1h-1zM79 297h1v1h-1zM79 293h1v1h-1zM80 289h1v1h-1zM80 285h1v1h-1zM81 281h1v1h-1zM82 277h1v1h-1zM82 273h1v1h-1zM83 269h1v1h-1zM84 265h1v1h-1zM85 261h1v1h-1zM86 256h1v1h-1zM87 252h1v1h-1zM88 249h1v1h-1zM90 245h1v1h-1zM91 241h1v1h-1zM92 237h1v1h-1zM94 233h1v1h-1zM95 229h1v1h-1zM97 225h1v1h-1zM99 221h1v1h-1zM101 218h1v1h-1zM103 214h1v1h-1zM104 210h1v1h-1zM106 207h1v1h-1zM108 203h1v1h-1zM111 199h1v1h-1zM113 196h1v1h-1zM115 192h1v1h-1zM117 189h1v1h-1zM120 186h1v1h-1zM122 182h1v1h-1zM125 179h1v1h-1zM127 176h1v1h-1zM130 172h1v1h-1zM133 169h1v1h-1zM136 166h1v1h-1zM138 163h1v1h-1zM141 160h1v1h-1zM144 157h1v1h-1zM147 154h1v1h-1zM150 152h1v1h-1zM153 149h1v1h-1zM156 146h1v1h-1zM160 143h1v1h-1zM163 141h1v1h-1zM166 138h1v1h-1zM170 136h1v1h-1zM173 133h1v1h-1zM176 131h1v1h-1zM180 129h1v1h-1zM183 127h1v1h-1zM187 124h1v1h-1zM191 122h1v1h-1zM194 120h1v1h-1zM198 119h1v1h-1zM202 117h1v1h-1zM205 115h1v1h-1zM209 113h1v1h-1zM213 111h1v1h-1zM217 110h1v1h-1zM221 108h1v1h-1zM225 107h1v1h-1zM229 106h1v1h-1zM233 104h1v1h-1zM236 103h1v1h-1zM240 102h1v1h-1zM245 101h1v1h-1zM249 100h1v1h-1zM253 99h1v1h-1zM257 98h1v1h-1zM261 98h1v1h-1zM265 97h1v1h-1zM269 96h1v1h-1zM273 96h1v1h-1zM277 95h1v1h-1zM281 95h1v1h-1zM286 95h1v1h-1zM290 95h1v1h-1zM294 94h1v1h-1z"/>
<line x1="298.5" y1="63.5" x2="298.5" y2="565.5" stroke="#000" stroke-width="1.2"/>
<line x1="47.5" y1="314.5" x2="549.5" y2="314.5" stroke="#000" stroke-width="1.2"/>
<text class="m" font-weight="bold" font-size="13.333" x="281.5" y="57" textLength="35" lengthAdjust="spacingAndGlyphs">North</text>
<text class="m" font-weight="bold" font-size="13.333" x="281.5" y="578" textLength="35" lengthAdjust="spacingAndGlyphs">South</text>
<text class="m" font-weight="bold" font-size="13.333" x="15" y="318" textLength="29" lengthAdjust="spacingAndGlyphs">West</text>
<text class="m" font-weight="bold" font-size="13.333" x="552" y="318" textLength="29" lengthAdjust="spacingAndGlyphs">East</text>
<text class="m" font-size="11.9" fill="#000" xml:space="preserve" transform="translate(594,71) scale(0.9804,1.0000)">Tot Num of Sources</text>
<text class="m" font-size="11.9" fill="#c4c4c4" xml:space="preserve" transform="translate(783.0,71) scale(0.9804,1.0000)">0</text>
<text class="m" font-size="11.9" fill="#000" xml:space="preserve" transform="translate(594,85) scale(0.9804,1.0000)">Tot Min Freq, kHz</text>
<text class="m" font-size="11.9" fill="#c4c4c4" xml:space="preserve" transform="translate(769.0,85) scale(0.9804,1.0000)">N/A</text>
<text class="m" font-size="11.9" fill="#000" xml:space="preserve" transform="translate(594,99) scale(0.9804,1.0000)">Tot Max Freq, kHz</text>
<text class="m" font-size="11.9" fill="#c4c4c4" xml:space="preserve" transform="translate(769.0,99) scale(0.9804,1.0000)">N/A</text>
<text class="m" font-size="11.9" fill="#000" xml:space="preserve" transform="translate(594,113) scale(0.9804,1.0000)">Tot Min Range, km</text>
<text class="m" font-size="11.9" fill="#c4c4c4" xml:space="preserve" transform="translate(769.0,113) scale(0.9804,1.0000)">N/A</text>
<text class="m" font-size="11.9" fill="#000" xml:space="preserve" transform="translate(594,127) scale(0.9804,1.0000)">Tot Max Range, km</text>
<text class="m" font-size="11.9" fill="#c4c4c4" xml:space="preserve" transform="translate(769.0,127) scale(0.9804,1.0000)">N/A</text>
<text class="m" font-size="11.9" fill="#000" xml:space="preserve" transform="translate(594,141) scale(0.9804,1.0000)">Tot Max Amp, dB</text>
<text class="m" font-size="11.9" fill="#c4c4c4" xml:space="preserve" transform="translate(769.0,141) scale(0.9804,1.0000)">N/A</text>
<text class="m" font-size="11.9" fill="#000" xml:space="preserve" transform="translate(594,155) scale(0.9804,1.0000)">Tot Max SNR Amp, dB</text>
<text class="m" font-size="11.9" fill="#c4c4c4" xml:space="preserve" transform="translate(769.0,155) scale(0.9804,1.0000)">N/A</text>
<text class="m" font-size="11.9" fill="#000" xml:space="preserve" transform="translate(594,169) scale(0.9804,1.0000)">Tot Min SNR Amp, dB</text>
<text class="m" font-size="11.9" fill="#c4c4c4" xml:space="preserve" transform="translate(769.0,169) scale(0.9804,1.0000)">N/A</text>
<text class="m" font-size="11.9" fill="#000" xml:space="preserve" transform="translate(594,183) scale(0.9804,1.0000)">Tot Avg SNR Amp, dB</text>
<text class="m" font-size="11.9" fill="#c4c4c4" xml:space="preserve" transform="translate(769.0,183) scale(0.9804,1.0000)">N/A</text>
<text class="m" font-size="11.9" fill="#000" xml:space="preserve" transform="translate(594,197) scale(0.9804,1.0000)">Tot Max RMS Err, deg</text>
<text class="m" font-size="11.9" fill="#c4c4c4" xml:space="preserve" transform="translate(769.0,197) scale(0.9804,1.0000)">N/A</text>
<text class="m" font-size="11.9" fill="#000" xml:space="preserve" transform="translate(594,211) scale(0.9804,1.0000)">Tot Min RMS Err, deg</text>
<text class="m" font-size="11.9" fill="#c4c4c4" xml:space="preserve" transform="translate(769.0,211) scale(0.9804,1.0000)">N/A</text>
<text class="m" font-size="11.9" fill="#000" xml:space="preserve" transform="translate(594,225) scale(0.9804,1.0000)">Tot Avg RMS Err, deg</text>
<text class="m" font-size="11.9" fill="#c4c4c4" xml:space="preserve" transform="translate(769.0,225) scale(0.9804,1.0000)">N/A</text>
<text class="m" font-size="11.9" fill="#000" xml:space="preserve" transform="translate(594,239) scale(0.9804,1.0000)">Doppler Res, Hz</text>
<text class="m" font-size="11.9" fill="#000" xml:space="preserve" transform="translate(748.0,239) scale(0.9804,1.0000)">0.0977</text>
<text class="m" font-size="11.9" fill="#000" xml:space="preserve" transform="translate(594,253) scale(0.9804,1.0000)">CIT, sec</text>
<text class="m" font-size="11.9" fill="#000" xml:space="preserve" transform="translate(755.0,253) scale(0.9804,1.0000)">10.24</text>
<text class="m" font-size="11.9" fill="#000" xml:space="preserve" transform="translate(594,267) scale(0.9804,1.0000)">Num of CITs</text>
<text class="m" font-size="11.9" fill="#000" xml:space="preserve" transform="translate(783.0,267) scale(0.9804,1.0000)">2</text>
<text class="m" font-size="11.9" fill="#000" xml:space="preserve" transform="translate(594,281) scale(0.9804,1.0000)">Polarization</text>
<text class="m" font-size="11.9" fill="#000" xml:space="preserve" transform="translate(748.0,281) scale(0.9804,1.0000)">O-mode</text>
<text class="m" font-size="11.9" fill="#000" xml:space="preserve" transform="translate(594,295) scale(0.9804,1.0000)">Center of Sources, deg:</text>
<text class="m" font-size="11.9" fill="#000" xml:space="preserve" transform="translate(594,309) scale(0.9804,1.0000)">Tot</text>
<text class="m" font-size="11.9" fill="#000" xml:space="preserve" transform="translate(692.0,309) scale(0.9804,1.0000)">Zenith</text>
<text class="m" font-size="11.9" fill="#c4c4c4" xml:space="preserve" transform="translate(769.0,309) scale(0.9804,1.0000)">N/A</text>
<text class="m" font-size="11.9" fill="#000" xml:space="preserve" transform="translate(594,323) scale(0.9804,1.0000)">Tot</text>
<text class="m" font-size="11.9" fill="#000" xml:space="preserve" transform="translate(692.0,323) scale(0.9804,1.0000)">Azimuth</text>
<text class="m" font-size="11.9" fill="#c4c4c4" xml:space="preserve" transform="translate(769.0,323) scale(0.9804,1.0000)">N/A</text>
<path d="M753.7,320.2 C753.7,316.6 750.6,316.3 750.5,320.4" fill="none" stroke="#222" stroke-width="0.85"/><path d="M748.3,319.2 L750.6,320.9" fill="none" stroke="#222" stroke-width="1"/>
<rect x="593" y="341" width="15" height="241.5" fill="url(#jet)"/>
<line x1="608.5" y1="341" x2="608.5" y2="582.5" stroke="#000" stroke-width="1"/>
<line x1="608" y1="341.5" x2="615" y2="341.5" stroke="#000" stroke-width="1"/>
<text class="s" font-weight="bold" font-size="11.6" x="617.2" y="345.4" fill="#000" textLength="19.49" lengthAdjust="spacingAndGlyphs">6.3</text>
<line x1="608" y1="345.5" x2="615" y2="345.5" stroke="#000" stroke-width="1"/>
<line x1="608" y1="365.5" x2="615" y2="365.5" stroke="#000" stroke-width="1"/>
<text class="s" font-weight="bold" font-size="11.6" x="617.2" y="369.4" fill="#000" textLength="19.49" lengthAdjust="spacingAndGlyphs">5.0</text>
<line x1="608" y1="384.5" x2="615" y2="384.5" stroke="#000" stroke-width="1"/>
<text class="s" font-weight="bold" font-size="11.6" x="617.2" y="388.4" fill="#000" textLength="19.49" lengthAdjust="spacingAndGlyphs">4.0</text>
<line x1="608" y1="403.5" x2="615" y2="403.5" stroke="#000" stroke-width="1"/>
<text class="s" font-weight="bold" font-size="11.6" x="617.2" y="407.4" fill="#000" textLength="19.49" lengthAdjust="spacingAndGlyphs">3.0</text>
<line x1="608" y1="423.5" x2="615" y2="423.5" stroke="#000" stroke-width="1"/>
<text class="s" font-weight="bold" font-size="11.6" x="617.2" y="427.4" fill="#000" textLength="19.49" lengthAdjust="spacingAndGlyphs">2.0</text>
<line x1="608" y1="442.5" x2="615" y2="442.5" stroke="#000" stroke-width="1"/>
<text class="s" font-weight="bold" font-size="11.6" x="617.2" y="446.4" fill="#000" textLength="19.49" lengthAdjust="spacingAndGlyphs">1.0</text>
<line x1="608" y1="461.5" x2="615" y2="461.5" stroke="#000" stroke-width="1"/>
<text class="s" font-weight="bold" font-size="11.6" x="617.2" y="465.4" fill="#000" textLength="7.66" lengthAdjust="spacingAndGlyphs">0</text>
<line x1="608" y1="481.5" x2="615" y2="481.5" stroke="#000" stroke-width="1"/>
<text class="s" font-weight="bold" font-size="11.6" x="617.2" y="485.4" fill="#000" textLength="24.06" lengthAdjust="spacingAndGlyphs">-1.0</text>
<line x1="608" y1="500.5" x2="615" y2="500.5" stroke="#000" stroke-width="1"/>
<text class="s" font-weight="bold" font-size="11.6" x="617.2" y="504.4" fill="#000" textLength="24.06" lengthAdjust="spacingAndGlyphs">-2.0</text>
<line x1="608" y1="520.5" x2="615" y2="520.5" stroke="#000" stroke-width="1"/>
<text class="s" font-weight="bold" font-size="11.6" x="617.2" y="524.4" fill="#000" textLength="24.06" lengthAdjust="spacingAndGlyphs">-3.0</text>
<line x1="608" y1="539.5" x2="615" y2="539.5" stroke="#000" stroke-width="1"/>
<text class="s" font-weight="bold" font-size="11.6" x="617.2" y="543.4" fill="#000" textLength="24.06" lengthAdjust="spacingAndGlyphs">-4.0</text>
<line x1="608" y1="558.5" x2="615" y2="558.5" stroke="#000" stroke-width="1"/>
<text class="s" font-weight="bold" font-size="11.6" x="617.2" y="562.4" fill="#000" textLength="24.06" lengthAdjust="spacingAndGlyphs">-5.0</text>
<line x1="608" y1="578.5" x2="615" y2="578.5" stroke="#000" stroke-width="1"/>
<line x1="608" y1="582.5" x2="615" y2="582.5" stroke="#000" stroke-width="1"/>
<text class="s" font-weight="bold" font-size="11.6" x="617.2" y="586.4" fill="#000" textLength="24.06" lengthAdjust="spacingAndGlyphs">-6.3</text>
<text class="s" font-weight="bold" font-size="11" stroke="#000" stroke-width="0.2" transform="translate(657.5,492.3) rotate(-90)" textLength="54.8" lengthAdjust="spacingAndGlyphs">Doppler, Hz</text>
<path d="M668.7,402.4 H677 M672.85,398.7 V406.1" stroke="#0000e0" stroke-width="0.95"/>
<text class="s" font-weight="bold" font-size="10.2" x="682.4" y="406" fill="#0000e0" stroke="#0000e0" stroke-width="0.25" textLength="44.8" lengthAdjust="spacingAndGlyphs">Positive</text>
<circle cx="673" cy="522.8" r="2.7" fill="none" stroke="#e00000" stroke-width="1.05"/>
<text class="s" font-weight="bold" font-size="10.2" x="682.4" y="525.8" fill="#e00000" stroke="#e00000" stroke-width="0.25" textLength="50.8" lengthAdjust="spacingAndGlyphs">Negative</text>
<text class="m" font-size="13.4" font-style="italic" fill="#000" xml:space="preserve" transform="translate(12.3,571.8) scale(0.9000,1.0000)">V</text>
<text class="m" font-size="11.7" fill="#000" xml:space="preserve" transform="translate(19.3,575.8) scale(0.7200,1.0000)">h</text>
<text class="m" font-size="11.9" fill="#000" xml:space="preserve" transform="translate(33,572.8) scale(0.9804,1.0000)">=</text>
<text class="m" font-size="11.9" font-style="italic" fill="#000" xml:space="preserve" transform="translate(54,571.8) scale(0.9804,1.0000)">?</text>
<text class="m" font-size="11.9" fill="#000" xml:space="preserve" transform="translate(68,571.8) scale(0.9804,1.0000)">±</text>
<text class="m" font-size="11.9" font-style="italic" fill="#000" xml:space="preserve" transform="translate(89,571.8) scale(0.9804,1.0000)">?</text>
<text class="m" font-size="11.9" fill="#000" xml:space="preserve" transform="translate(103,571.8) scale(0.9804,1.0000)">m/s</text>
<text class="m" font-size="13.4" font-style="italic" fill="#000" xml:space="preserve" transform="translate(466.3,571.8) scale(0.9000,1.0000)">V</text>
<text class="m" font-size="9.2" fill="#000" xml:space="preserve" transform="translate(474.3,576.0) scale(0.8500,1.0000)">z</text>
<text class="m" font-size="11.9" fill="#000" xml:space="preserve" transform="translate(487,572.8) scale(0.9804,1.0000)">=</text>
<text class="m" font-size="11.9" font-style="italic" fill="#000" xml:space="preserve" transform="translate(508,571.8) scale(0.9804,1.0000)">?</text>
<text class="m" font-size="11.9" fill="#000" xml:space="preserve" transform="translate(522,571.8) scale(0.9804,1.0000)">±</text>
<text class="m" font-size="11.9" font-style="italic" fill="#000" xml:space="preserve" transform="translate(543,571.8) scale(0.9804,1.0000)">?</text>
<text class="m" font-size="11.9" fill="#000" xml:space="preserve" transform="translate(557,571.8) scale(0.9804,1.0000)">m/s</text>
<text class="m" font-size="11.9" font-style="italic" fill="#000" xml:space="preserve" transform="translate(12,592.6) scale(0.9804,1.0000)">Geographic coordinates</text>
<text class="m" font-size="11.9" font-style="italic" fill="#000" xml:space="preserve" transform="translate(419,592.6) scale(0.9804,1.0000)">Zenith: max 40</text>
<text class="m" font-size="11.9" font-style="italic" fill="#000" xml:space="preserve" transform="translate(517,592.6) scale(0.9804,1.0000)">°</text>
<text class="m" font-size="11.9" font-style="italic" fill="#000" xml:space="preserve" transform="translate(534.5,592.6) scale(0.9454,1.0000)">step 5°</text>
<text class="s" font-size="9.6" x="654.5" y="593.2" textLength="89" lengthAdjust="spacingAndGlyphs">ShowSkymap v 1.0</text>
<text class="s" font-size="9.6" x="753.5" y="593.2" textLength="38.8" lengthAdjust="spacingAndGlyphs">SD v 5.1</text>
<rect x="6.5" y="6.5" width="788" height="588" fill="none" stroke="#000" stroke-width="1"/>
</svg>
</body></html>
